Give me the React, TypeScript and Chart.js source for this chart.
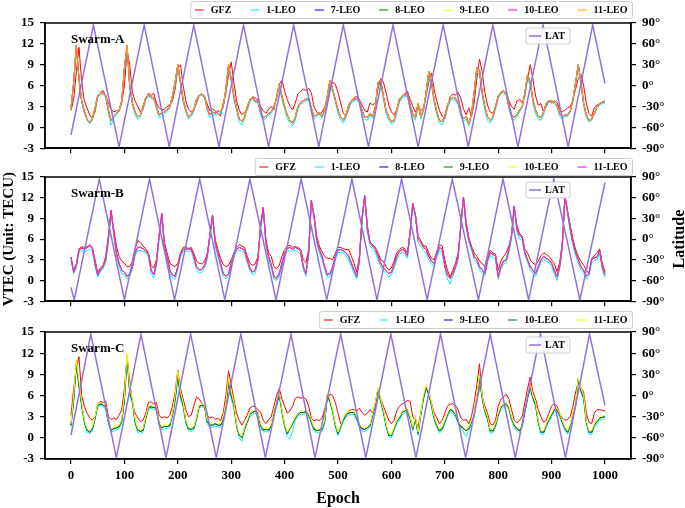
import React, { useEffect, useRef } from "react";
import { Chart, registerables } from "chart.js";
Chart.register(...registerables);

const FONT = '"Liberation Serif", "Times New Roman", serif';
Chart.defaults.font.family = FONT;

const EPOCH_STEP = 5;
const X_TICKS = [0, 100, 200, 300, 400, 500, 600, 700, 800, 900, 1000];

// ---------- Swarm-A (VTEC, TECU, every 5 epochs) ----------
const A_GFZ = [
  2.4, 4.0, 8.0, 11.5, 6.5, 3.8, 2.8, 1.8, 1.3, 2.2, 4.4, 5.0, 5.3, 4.5, 3.5, 2.6, 2.2, 2.4, 2.3, 3.5,
  6.0, 11.0, 9.0, 5.0, 3.8, 3.0, 2.2, 2.6, 4.0, 4.9, 4.6, 4.9, 3.5, 2.8, 2.5, 2.6, 3.0, 3.2, 3.8, 5.5,
  8.5, 9.0, 6.0, 3.8, 2.6, 2.2, 2.4, 3.5, 4.5, 4.8, 4.3, 3.4, 2.4, 2.6, 2.4, 2.0, 1.6, 3.5, 4.8, 7.5,
  9.4, 6.5, 3.8, 2.5, 1.8, 2.2, 2.5, 3.8, 4.4, 4.2, 4.0, 3.0, 2.4, 2.0, 2.6, 3.0, 2.5, 4.5, 6.2, 6.8,
  5.2, 4.0, 3.0, 2.5, 3.5, 4.8, 5.2, 5.5, 5.3, 5.6, 5.0, 3.0, 2.2, 1.8, 2.2, 2.8, 3.5, 5.8, 6.5, 6.2,
  5.0, 3.5, 2.0, 1.6, 2.6, 3.8, 4.2, 4.5, 4.0, 3.2, 2.4, 2.2, 3.5, 3.2, 3.5, 5.5, 7.0, 6.5, 5.0, 3.2,
  2.2, 1.8, 2.5, 3.8, 4.5, 4.8, 5.2, 4.0, 3.0, 2.2, 3.0, 2.4, 2.8, 4.5, 6.5, 7.8, 5.5, 3.8, 2.4, 1.6,
  1.2, 2.8, 4.4, 4.8, 4.6, 5.0, 4.2, 2.6, 1.8, 2.8, 1.5, 3.5, 7.0, 9.8, 8.0, 5.0, 3.2, 2.2, 2.0, 2.8,
  4.2, 5.0, 5.3, 4.8, 3.8, 3.0, 2.6, 3.8, 4.0, 3.5, 4.5, 7.0, 9.0, 7.0, 4.5, 3.2, 3.4, 2.2, 3.0, 3.8,
  3.5, 3.8, 3.6, 2.6, 2.2, 2.5, 2.8, 3.0, 4.0, 5.5, 7.0, 7.6, 6.0, 3.5, 2.0, 1.6, 2.8, 3.2, 3.4, 3.6,
  3.5,
];
const A_LEO1 = [
  2.6, 6.0, 11.0, 6.5, 3.5, 2.0, 1.0, 0.5, 1.0, 2.5, 4.3, 4.8, 4.8, 4.3, 2.0, 0.3, 1.3, 1.8, 2.3, 3.5,
  8.0, 11.0, 5.5, 3.2, 1.8, 1.2, 1.5, 2.8, 4.0, 4.4, 4.2, 4.0, 2.6, 1.4, 1.6, 1.9, 2.3, 2.8, 4.2, 6.0,
  8.5, 6.0, 3.6, 2.2, 1.2, 1.5, 2.3, 3.8, 4.5, 4.6, 4.2, 2.4, 1.4, 1.8, 1.8, 2.0, 2.0, 2.8, 5.0, 8.5,
  6.5, 4.0, 2.4, 0.8, 0.3, 1.2, 2.6, 3.7, 4.0, 3.6, 3.5, 1.8, 1.0, 1.3, 1.8, 2.0, 2.8, 4.0, 5.8, 4.0,
  2.6, 1.3, 0.6, 0.2, 1.0, 2.6, 3.4, 3.5, 3.8, 4.0, 2.4, 1.2, 1.5, 2.0, 1.4, 2.2, 4.0, 6.2, 5.0, 3.6,
  2.0, 1.0, 0.6, 1.4, 2.8, 3.5, 3.8, 4.0, 3.5, 2.0, 1.2, 1.0, 1.8, 1.2, 2.6, 6.0, 6.2, 4.0, 2.0, 1.0,
  0.5, 0.7, 2.0, 3.6, 4.2, 4.4, 4.5, 2.8, 1.5, 1.0, 3.0, 1.2, 2.2, 4.5, 7.4, 6.0, 3.5, 1.8, 0.6, 0.4,
  1.3, 2.8, 3.8, 4.0, 3.9, 3.2, 1.6, 0.8, 1.2, 0.2, 1.6, 4.5, 8.0, 7.5, 4.5, 2.5, 1.0, 0.6, 1.2, 2.6,
  4.2, 4.8, 5.0, 4.6, 2.6, 1.4, 1.0, 1.5, 2.2, 2.8, 4.6, 7.0, 6.0, 3.5, 2.0, 1.2, 1.0, 1.8, 3.2, 3.6,
  3.6, 3.4, 3.0, 1.6, 1.2, 1.5, 1.6, 2.2, 3.6, 6.0, 8.5, 6.0, 3.0, 1.4, 0.8, 1.0, 1.8, 2.8, 3.2, 3.4,
  3.6,
];
const A_LEO11 = [
  2.8, 6.5, 11.8, 7.0, 3.8, 2.3, 1.2, 0.7, 1.2, 2.8, 4.6, 5.0, 4.9, 4.6, 2.5, 1.0, 1.6, 2.0, 2.5, 3.8,
  8.5, 11.8, 6.0, 3.5, 2.2, 1.5, 1.8, 3.0, 4.3, 4.6, 4.4, 4.2, 3.0, 1.8, 2.0, 2.2, 2.6, 3.0, 4.5, 6.5,
  9.0, 6.5, 4.0, 2.5, 1.5, 1.8, 2.6, 4.0, 4.6, 4.8, 4.5, 2.8, 1.8, 2.2, 2.0, 2.4, 2.2, 3.0, 5.5, 9.0,
  7.0, 4.5, 2.8, 1.2, 0.8, 1.5, 3.0, 4.0, 4.2, 3.8, 3.8, 2.2, 1.4, 1.6, 2.0, 2.2, 3.0, 4.2, 6.2, 4.5,
  3.0, 1.8, 1.0, 0.6, 1.5, 3.0, 3.6, 3.8, 4.0, 4.2, 2.8, 1.6, 1.8, 2.2, 1.6, 2.5, 4.5, 6.8, 5.5, 4.0,
  2.5, 1.5, 1.0, 1.8, 3.2, 3.8, 4.0, 4.2, 3.8, 2.4, 1.6, 1.4, 2.0, 1.5, 3.0, 6.5, 6.8, 4.5, 2.5, 1.5,
  0.8, 1.0, 2.5, 4.0, 4.5, 4.6, 4.8, 3.2, 2.0, 1.4, 3.5, 1.5, 2.5, 5.0, 8.0, 6.5, 4.0, 2.2, 1.0, 0.8,
  1.6, 3.2, 4.0, 4.3, 4.2, 3.5, 2.0, 1.2, 1.6, 0.5, 2.0, 5.0, 8.6, 8.2, 5.0, 3.0, 1.5, 1.0, 1.5, 3.0,
  4.5, 5.0, 5.2, 4.8, 3.0, 1.8, 1.4, 1.8, 2.5, 3.0, 5.0, 7.6, 6.5, 4.0, 2.5, 1.6, 1.4, 2.2, 3.5, 3.8,
  3.8, 3.6, 3.2, 2.0, 1.5, 1.8, 1.8, 2.4, 4.0, 6.5, 9.0, 6.5, 3.5, 1.8, 1.0, 1.2, 2.0, 3.0, 3.4, 3.6,
  3.8,
];
const A_LAT_EPOCH = [0, 42, 90, 137, 184, 230, 277, 323, 370, 417, 464, 510, 557, 603, 650, 697, 744, 790, 837, 884, 931, 977, 1000];
const A_LAT_DEG = [-71, 87, -88, 87, -88, 87, -88, 87, -88, 87, -88, 87, -88, 87, -88, 87, -88, 87, -88, 87, -88, 87, 3];

// ---------- Swarm-B ----------
const B_GFZ = [
  2.8, 1.5, 2.4, 4.6, 4.9, 4.8, 4.9, 5.0, 4.8, 3.0, 1.2, 1.8, 2.2, 3.5, 6.5, 10.0, 7.5, 5.0, 3.5, 2.8,
  2.5, 2.0, 2.0, 2.8, 4.5, 5.8, 5.5, 5.0, 4.6, 4.0, 2.2, 1.8, 3.0, 6.5, 9.4, 5.5, 4.0, 2.5, 2.2, 2.0,
  2.5, 4.0, 4.8, 4.9, 4.6, 4.8, 4.0, 2.8, 2.5, 2.4, 2.8, 3.8, 6.5, 9.2, 6.0, 4.5, 3.2, 2.3, 2.0, 2.2,
  3.0, 4.0, 4.8, 5.2, 5.0, 4.8, 3.5, 2.5, 2.2, 2.4, 3.5, 7.5, 10.4, 6.0, 4.0, 3.5, 2.0, 1.7, 2.2, 3.5,
  4.5, 5.0, 5.1, 4.8, 4.9, 4.8, 4.5, 3.0, 2.6, 4.5, 11.2, 9.5, 6.5, 5.0, 4.2, 3.5, 3.2, 3.2, 3.0, 4.0,
  4.8, 4.8, 4.6, 4.5, 4.5, 3.5, 2.5, 1.2, 3.5, 9.0, 12.2, 8.0, 5.5, 5.2, 4.8, 4.0, 3.0, 2.8, 2.0, 1.5,
  1.8, 2.8, 4.0, 4.5, 4.8, 4.6, 4.0, 7.0, 11.0, 9.5, 6.5, 5.8, 5.0, 5.0, 4.0, 3.2, 3.0, 4.2, 5.2, 5.0,
  3.0, 1.5, 0.5, 1.5, 2.5, 4.0, 8.0, 11.8, 8.5, 6.2, 5.0, 4.0, 3.5, 2.8, 2.5, 2.0, 3.5, 4.4, 4.0, 3.8,
  1.5, 2.8, 3.5, 4.0, 5.0, 6.5, 10.5, 8.0, 6.8, 6.4, 4.5, 4.0, 3.0, 2.5, 2.3, 2.8, 3.6, 4.0, 3.8, 3.5,
  3.0, 2.5, 1.3, 2.5, 5.5, 12.0, 10.0, 8.0, 6.0, 4.5, 3.5, 2.8, 2.2, 1.5, 1.0, 3.2, 3.6, 4.0, 4.6, 2.5,
  1.2,
];
const B_LEO1 = [
  3.0, 1.0, 1.8, 4.0, 4.3, 4.2, 4.3, 4.6, 4.2, 2.0, 0.5, 1.2, 1.7, 2.6, 5.5, 9.8, 6.5, 3.6, 2.0, 1.0,
  0.8, 0.2, 0.6, 1.6, 3.6, 4.3, 4.4, 4.2, 4.0, 3.4, 1.0, 0.4, 2.0, 6.0, 9.4, 4.6, 3.0, 1.0, 0.4, 0.2,
  1.6, 3.4, 4.2, 4.3, 4.2, 4.3, 3.0, 1.6, 1.0, 1.2, 1.8, 3.0, 6.0, 9.2, 5.0, 3.5, 2.0, 0.6, 0.2, 0.6,
  2.0, 3.4, 4.2, 4.4, 4.3, 4.0, 2.6, 1.4, 0.8, 1.0, 2.6, 7.5, 10.2, 5.0, 3.0, 1.8, 0.2, 0.0, 0.6, 2.0,
  3.6, 4.2, 4.4, 4.2, 4.4, 4.2, 3.8, 1.6, 0.6, 3.5, 11.0, 9.0, 5.5, 4.0, 3.0, 1.6, 0.4, 0.6, 1.6, 3.0,
  4.0, 4.1, 4.0, 3.6, 3.0, 2.0, 1.0, 0.2, 2.6, 8.5, 12.0, 7.0, 5.0, 4.6, 4.0, 3.0, 2.0, 1.4, 1.0, 0.5,
  0.8, 1.8, 3.0, 3.8, 4.1, 4.0, 3.2, 6.5, 10.8, 9.0, 5.5, 5.0, 4.4, 4.0, 3.0, 2.4, 2.0, 3.4, 4.4, 4.0,
  1.8, 0.2, -0.5, 0.6, 1.6, 3.0, 7.5, 11.8, 7.5, 5.5, 4.4, 3.0, 2.6, 1.6, 1.0, 0.6, 2.6, 3.6, 3.4, 3.0,
  0.2, 1.6, 2.4, 2.6, 4.0, 6.0, 10.5, 7.0, 6.0, 5.8, 3.6, 2.6, 1.6, 1.0, 0.6, 1.6, 2.6, 3.1, 2.8, 2.6,
  2.0, 1.0, 0.0, 1.6, 4.5, 12.0, 9.5, 7.0, 5.0, 3.6, 2.6, 1.6, 1.0, 0.2, 0.6, 2.6, 2.9, 3.0, 3.8, 1.5,
  0.4,
];
const B_LEO11 = [
  3.4, 1.2, 2.2, 4.4, 4.7, 4.6, 4.7, 5.2, 4.6, 2.5, 0.8, 1.5, 2.0, 3.0, 6.0, 10.2, 7.0, 4.0, 2.5, 1.5,
  1.2, 0.6, 1.0, 2.0, 4.0, 4.8, 4.8, 4.6, 4.3, 3.8, 1.5, 0.8, 2.5, 6.5, 9.7, 5.0, 3.5, 1.5, 0.8, 0.6,
  2.0, 3.8, 4.5, 4.6, 4.5, 4.6, 3.5, 2.0, 1.5, 1.6, 2.2, 3.5, 6.5, 9.5, 5.5, 4.0, 2.5, 1.0, 0.6, 1.0,
  2.5, 3.8, 4.5, 4.8, 4.6, 4.4, 3.0, 1.8, 1.2, 1.5, 3.0, 8.0, 10.6, 5.5, 3.5, 2.2, 0.6, 0.3, 1.0, 2.5,
  4.0, 4.6, 4.8, 4.5, 4.8, 4.6, 4.2, 2.0, 1.0, 4.0, 11.6, 9.5, 6.0, 4.5, 3.5, 2.0, 0.8, 1.0, 2.0, 3.5,
  4.4, 4.5, 4.3, 4.0, 3.5, 2.5, 1.5, 0.6, 3.0, 9.0, 12.3, 7.5, 5.5, 5.0, 4.5, 3.5, 2.5, 1.8, 1.4, 1.0,
  1.2, 2.2, 3.5, 4.2, 4.5, 4.3, 3.6, 7.0, 11.2, 9.5, 6.0, 5.5, 4.8, 4.5, 3.5, 2.8, 2.5, 3.8, 4.8, 4.5,
  2.2, 0.8, 0.3, 1.0, 2.0, 3.5, 8.0, 12.1, 8.0, 6.0, 4.8, 3.5, 3.0, 2.0, 1.5, 1.0, 3.0, 4.0, 3.8, 3.5,
  0.5, 2.0, 2.8, 3.0, 4.5, 6.5, 10.8, 7.5, 6.5, 6.2, 4.0, 3.0, 2.0, 1.5, 1.0, 2.0, 3.0, 3.5, 3.2, 3.0,
  2.5, 1.5, 0.5, 2.0, 5.0, 12.3, 10.0, 7.5, 5.5, 4.0, 3.0, 2.0, 1.5, 0.6, 1.0, 3.0, 3.3, 3.4, 4.3, 2.0,
  0.8,
];
const B_LAT_EPOCH = [0, 6, 53, 100, 147, 194, 241, 288, 335, 384, 431, 479, 526, 573, 619, 667, 714, 763, 809, 857, 904, 953, 1000];
const B_LAT_DEG = [-70, -88, 87, -88, 87, -88, 87, -88, 87, -88, 87, -88, 87, -88, 87, -88, 87, -88, 87, -88, 87, -88, 82];

// ---------- Swarm-C ----------
const C_GFZ = [
  3.2, 7.0, 10.0, 11.5, 6.0, 4.5, 3.5, 2.8, 2.5, 3.0, 4.8, 5.2, 5.0, 5.2, 3.0, 2.6, 2.8, 2.6, 3.2, 4.0,
  7.0, 11.5, 8.0, 5.0, 3.5, 2.8, 2.3, 2.5, 3.5, 5.0, 5.1, 4.8, 5.0, 3.2, 2.8, 3.0, 2.8, 3.2, 4.5, 6.5,
  9.6, 7.0, 5.5, 4.0, 3.0, 3.2, 4.5, 5.8, 5.5, 4.9, 4.6, 3.2, 2.8, 3.0, 2.6, 2.8, 2.4, 3.5, 6.0, 9.5,
  7.5, 5.5, 3.5, 2.5, 1.8, 2.5, 3.2, 4.2, 4.5, 4.4, 4.0, 3.6, 2.5, 2.0, 2.6, 3.0, 4.5, 6.0, 7.0, 5.5,
  4.5, 3.5, 3.8, 4.5, 5.6, 5.8, 5.6, 5.7, 5.5, 4.5, 2.8, 2.4, 2.6, 2.4, 2.8, 4.0, 5.5, 6.2, 6.0, 5.0,
  3.5, 2.0, 2.5, 3.2, 3.8, 4.0, 4.0, 3.8, 4.2, 3.6, 3.2, 3.5, 4.0, 3.5, 5.0, 7.0, 5.5, 4.5, 3.5, 2.5,
  2.0, 2.5, 3.8, 4.5, 4.8, 5.0, 5.3, 5.2, 3.0, 2.5, 1.5, 3.5, 5.5, 7.0, 6.5, 5.0, 3.5, 2.8, 2.0, 2.5,
  3.5, 4.5, 4.8, 4.8, 4.6, 4.0, 2.8, 2.5, 2.6, 2.0, 3.0, 5.0, 7.5, 10.5, 6.0, 4.5, 3.5, 2.0, 1.8, 2.5,
  4.5, 5.5, 5.8, 6.2, 5.5, 4.0, 2.5, 2.1, 2.5, 3.0, 5.0, 7.0, 8.6, 6.5, 5.5, 4.0, 3.0, 2.2, 2.5, 3.5,
  4.5, 4.9, 4.5, 3.5, 2.8, 2.5, 2.6, 3.0, 4.5, 6.5, 8.0, 7.0, 6.5, 3.5, 2.2, 2.0, 3.5, 4.0, 4.0, 3.9,
  3.8,
];
const C_LEO1 = [
  1.5, 5.0, 10.0, 7.0, 4.3, 2.0, 0.8, 0.6, 1.0, 2.5, 4.4, 4.6, 4.5, 4.0, 2.0, 0.8, 1.0, 1.1, 1.3, 2.1,
  5.0, 11.5, 6.0, 4.8, 2.0, 0.8, 0.6, 0.8, 2.5, 4.0, 4.2, 4.0, 4.0, 1.7, 1.1, 1.3, 1.3, 1.5, 3.0, 5.0,
  8.5, 5.5, 4.3, 2.0, 1.0, 0.9, 1.1, 2.5, 4.3, 4.4, 4.3, 2.0, 1.5, 1.5, 1.7, 1.5, 1.5, 2.5, 4.2, 7.5,
  5.5, 4.3, 1.5, 0.0, -0.5, 1.0, 2.0, 3.0, 3.3, 3.5, 3.3, 1.5, 0.8, 0.9, 0.8, 1.5, 3.3, 4.3, 6.0, 3.5,
  1.5, 0.2, -0.2, 1.0, 2.5, 3.0, 3.3, 3.3, 3.4, 3.0, 2.0, 1.0, 0.7, 0.8, 0.9, 2.0, 5.7, 5.0, 3.5, 1.5,
  0.3, 1.3, 2.3, 3.0, 3.2, 3.3, 3.3, 2.5, 1.5, 1.0, 0.9, 1.1, 1.5, 3.0, 4.4, 6.8, 5.0, 3.5, 1.5, 0.2,
  0.0, 1.0, 2.0, 2.5, 3.3, 3.5, 3.7, 2.5, 1.0, 2.5, 0.3, 3.0, 5.4, 7.0, 6.0, 4.4, 2.5, 1.5, 0.7, 1.0,
  2.0, 3.0, 3.7, 3.5, 3.0, 2.0, 1.3, 0.8, 0.2, 1.0, 2.0, 3.0, 5.4, 8.2, 5.4, 3.5, 2.5, 0.7, 0.7, 1.5,
  3.0, 4.0, 4.3, 4.5, 4.0, 2.5, 1.5, 1.0, 0.7, 1.5, 3.5, 5.4, 7.0, 5.4, 4.4, 2.0, 0.5, 0.5, 1.5, 2.3,
  3.0, 3.7, 3.7, 3.0, 2.0, 1.0, 0.5, 1.5, 3.0, 4.4, 8.0, 6.4, 5.4, 2.0, 0.5, 0.5, 1.5, 2.0, 2.5, 2.6,
  2.7,
];
const C_LEO10 = [
  1.8, 5.5, 10.5, 7.5, 4.7, 2.3, 1.1, 0.8, 1.3, 2.8, 4.6, 4.8, 4.7, 4.3, 2.3, 1.1, 1.3, 1.4, 1.6, 2.4,
  5.5, 11.5, 6.5, 5.2, 2.3, 1.1, 0.9, 1.1, 2.8, 4.3, 4.4, 4.3, 4.2, 2.0, 1.4, 1.6, 1.6, 1.8, 3.3, 5.5,
  9.0, 6.0, 4.7, 2.3, 1.3, 1.2, 1.4, 2.8, 4.5, 4.6, 4.5, 2.3, 1.8, 1.8, 2.0, 1.8, 1.8, 2.8, 4.6, 8.0,
  6.0, 4.7, 1.8, 0.4, 0.0, 1.3, 2.3, 3.3, 3.6, 3.8, 3.6, 1.8, 1.1, 1.2, 1.1, 1.8, 3.7, 4.7, 6.2, 3.8,
  1.8, 0.6, 1.3, 2.0, 2.8, 3.3, 3.6, 3.6, 3.7, 3.3, 2.3, 1.3, 1.0, 1.1, 1.2, 2.3, 6.0, 5.2, 3.8, 1.8,
  0.6, 1.6, 2.6, 3.3, 3.5, 3.6, 3.6, 2.8, 1.8, 1.3, 1.2, 1.4, 1.8, 3.3, 4.7, 7.0, 5.2, 3.8, 1.8, 0.4,
  0.3, 1.3, 2.3, 2.8, 3.6, 3.8, 4.0, 2.8, 1.3, 2.8, 0.6, 3.3, 5.7, 7.2, 6.2, 4.7, 2.8, 1.8, 1.0, 1.3,
  2.3, 3.3, 4.0, 3.8, 3.3, 2.3, 1.6, 1.3, 1.0, 1.3, 2.3, 3.3, 5.7, 8.6, 5.7, 3.8, 2.8, 1.0, 1.0, 1.8,
  3.3, 4.3, 4.6, 4.8, 4.3, 2.8, 1.8, 1.3, 1.0, 1.8, 3.8, 5.7, 7.2, 5.7, 4.7, 2.3, 0.8, 0.8, 1.8, 2.6,
  3.3, 4.0, 4.0, 3.3, 2.3, 1.3, 0.8, 1.8, 3.3, 4.7, 8.3, 6.7, 5.7, 2.3, 0.8, 0.8, 1.8, 2.3, 2.8, 2.9,
  3.0,
];
const C_LEO11 = [
  2.0, 6.0, 11.0, 8.0, 5.0, 2.5, 1.3, 1.0, 1.5, 3.0, 4.8, 5.0, 4.9, 4.5, 2.5, 1.3, 1.5, 1.6, 1.8, 2.6,
  6.0, 12.0, 7.0, 5.5, 2.5, 1.3, 1.1, 1.3, 3.0, 4.5, 4.6, 4.5, 4.4, 2.2, 1.6, 1.8, 1.8, 2.0, 3.5, 6.0,
  9.5, 6.5, 5.0, 2.5, 1.5, 1.4, 1.6, 3.0, 4.7, 4.8, 4.7, 2.5, 2.0, 2.0, 2.2, 2.0, 2.0, 3.0, 5.0, 8.5,
  6.5, 5.0, 2.0, 0.6, 0.2, 1.5, 2.5, 3.5, 3.8, 4.0, 3.8, 2.0, 1.3, 1.4, 1.3, 2.0, 4.0, 5.0, 6.5, 4.0,
  2.0, 0.8, 1.5, 2.2, 3.0, 3.5, 3.8, 3.8, 3.9, 3.5, 2.5, 1.5, 1.2, 1.3, 1.4, 2.5, 6.3, 5.5, 4.0, 2.0,
  0.8, 1.8, 2.8, 3.5, 3.7, 3.8, 3.8, 3.0, 2.0, 1.5, 1.4, 1.6, 2.0, 3.5, 5.0, 7.2, 5.5, 4.0, 2.0, 0.6,
  0.5, 1.5, 2.5, 3.0, 3.8, 4.0, 4.2, 3.0, 1.5, 3.0, 0.8, 3.5, 6.0, 7.5, 6.5, 5.0, 3.0, 2.0, 1.2, 1.5,
  2.5, 3.5, 4.2, 4.0, 3.5, 2.5, 1.8, 1.5, 1.2, 1.5, 2.5, 3.5, 6.0, 9.0, 6.0, 4.0, 3.0, 1.2, 1.2, 2.0,
  3.5, 4.5, 4.8, 5.0, 4.5, 3.0, 2.0, 1.5, 1.2, 2.0, 4.0, 6.0, 7.5, 6.0, 5.0, 2.5, 1.0, 1.0, 2.0, 2.8,
  3.5, 4.2, 4.2, 3.5, 2.5, 1.5, 1.0, 2.0, 3.5, 5.0, 8.6, 7.0, 6.0, 2.5, 1.0, 1.0, 2.0, 2.5, 3.0, 3.1,
  3.2,
];
const C_LAT_EPOCH = [0, 37, 85, 131, 178, 224, 272, 318, 364, 412, 457, 505, 552, 599, 646, 692, 739, 785, 832, 879, 926, 971, 1000];
const C_LAT_DEG = [-56, 87, -88, 87, -88, 87, -88, 87, -88, 87, -88, 87, -88, 87, -88, 87, -88, 87, -88, 87, -88, 87, -14];

// ---------- colours ----------
const RED = "#ff0000";
const CYAN = "#00f0ff";
const BLUE = "#0000ff";
const GREEN = "#008000";
const YELLOW = "#ffff00";
const MAGENTA = "#ff00ff";
const ORANGE = "#ffa500";
const PURPLE = "#9370db";

type Series = { label: string; color: string; data: number[] };
type PanelDef = {
  name: string;
  top: number;
  height: number;
  padTop: number;
  axisH: number;
  legendTop: number;
  showX: boolean;
  series: Series[]; // legend order; later entries are drawn on top
  latEpoch: number[];
  latDeg: number[];
  vtecTitle?: boolean;
  latTitle?: boolean;
  epochTitle?: boolean;
};

const PANELS: PanelDef[] = [
  {
    name: "Swarm-A", top: 0, height: 162, padTop: 23, axisH: 10, legendTop: 1.5, showX: false,
    series: [
      { label: "GFZ", color: RED, data: A_GFZ },
      { label: "1-LEO", color: CYAN, data: A_LEO1 },
      { label: "7-LEO", color: BLUE, data: A_LEO11 },
      { label: "8-LEO", color: GREEN, data: A_LEO11 },
      { label: "9-LEO", color: YELLOW, data: A_LEO11 },
      { label: "10-LEO", color: MAGENTA, data: A_LEO11 },
      { label: "11-LEO", color: ORANGE, data: A_LEO11 },
    ],
    latEpoch: A_LAT_EPOCH, latDeg: A_LAT_DEG,
  },
  {
    name: "Swarm-B", top: 150, height: 165, padTop: 27, axisH: 10, legendTop: 8.5, showX: false,
    series: [
      { label: "GFZ", color: RED, data: B_GFZ },
      { label: "1-LEO", color: CYAN, data: B_LEO1 },
      { label: "8-LEO", color: BLUE, data: B_LEO11 },
      { label: "9-LEO", color: GREEN, data: B_LEO11 },
      { label: "10-LEO", color: YELLOW, data: B_LEO11 },
      { label: "11-LEO", color: MAGENTA, data: B_LEO11 },
    ],
    latEpoch: B_LAT_EPOCH, latDeg: B_LAT_DEG, vtecTitle: true, latTitle: true,
  },
  {
    name: "Swarm-C", top: 306, height: 202, padTop: 26, axisH: 49, legendTop: 5.5, showX: true,
    series: [
      { label: "GFZ", color: RED, data: C_GFZ },
      { label: "1-LEO", color: CYAN, data: C_LEO1 },
      { label: "9-LEO", color: BLUE, data: C_LEO10 },
      { label: "10-LEO", color: GREEN, data: C_LEO10 },
      { label: "11-LEO", color: YELLOW, data: C_LEO11 },
    ],
    latEpoch: C_LAT_EPOCH, latDeg: C_LAT_DEG, epochTitle: true,
  },
];

function roundRect(ctx: CanvasRenderingContext2D, x: number, y: number, w: number, h: number, r: number) {
  ctx.beginPath();
  ctx.moveTo(x + r, y);
  ctx.lineTo(x + w - r, y);
  ctx.quadraticCurveTo(x + w, y, x + w, y + r);
  ctx.lineTo(x + w, y + h - r);
  ctx.quadraticCurveTo(x + w, y + h, x + w - r, y + h);
  ctx.lineTo(x + r, y + h);
  ctx.quadraticCurveTo(x, y + h, x, y + h - r);
  ctx.lineTo(x, y + r);
  ctx.quadraticCurveTo(x, y, x + r, y);
  ctx.closePath();
}

function decorPlugin(p: PanelDef) {
  return {
    id: "decor",
    afterDatasetsDraw(chart: any) {
      const ctx: CanvasRenderingContext2D = chart.ctx;
      const a = chart.chartArea;
      ctx.save();
      // frame
      ctx.strokeStyle = "#000";
      ctx.lineWidth = 1.5;
      ctx.strokeRect(a.left, a.top, a.right - a.left, a.bottom - a.top);

      // panel name
      ctx.fillStyle = "#000";
      ctx.font = `bold 13px ${FONT}`;
      ctx.textAlign = "left";
      ctx.textBaseline = "middle";
      ctx.fillText(p.name, chart.scales.x.getPixelForValue(0), a.top + 17);

      // LAT legend inside the plot
      const lw = 44, lh = 16;
      const lx = a.right - 61 - lw, ly = a.top + 5;
      roundRect(ctx, lx, ly, lw, lh, 2);
      ctx.fillStyle = "rgba(255,255,255,0.85)";
      ctx.fill();
      ctx.strokeStyle = "#cccccc";
      ctx.lineWidth = 1;
      ctx.stroke();
      ctx.strokeStyle = PURPLE;
      ctx.lineWidth = 1.5;
      ctx.beginPath();
      ctx.moveTo(lx + 3, ly + lh / 2);
      ctx.lineTo(lx + 15, ly + lh / 2);
      ctx.stroke();
      ctx.fillStyle = "#000";
      ctx.font = `bold 10px ${FONT}`;
      ctx.fillText("LAT", lx + 19, ly + lh / 2 + 0.5);

      // series legend above the plot
      const items = p.series;
      ctx.font = `bold 10px ${FONT}`;
      const padL = 4, padR = 5, lineLen = 9, gap = 7, itemGap = 19, h = 17;
      const widths = items.map((it) => ctx.measureText(it.label).width);
      const total = padL + padR + widths.reduce((s, w) => s + w, 0) + items.length * (lineLen + gap) + (items.length - 1) * itemGap;
      const right = a.right + 1.5;
      const left = right - total;
      const top = p.legendTop;
      roundRect(ctx, left, top, total, h, 2);
      ctx.fillStyle = "#ffffff";
      ctx.fill();
      ctx.strokeStyle = "#cccccc";
      ctx.lineWidth = 1;
      ctx.stroke();
      let x = left + padL;
      items.forEach((it, k) => {
        ctx.globalAlpha = 0.7;
        ctx.strokeStyle = it.color;
        ctx.lineWidth = 1.5;
        ctx.beginPath();
        ctx.moveTo(x, top + h / 2);
        ctx.lineTo(x + lineLen, top + h / 2);
        ctx.stroke();
        ctx.globalAlpha = 1;
        ctx.fillStyle = "#000";
        ctx.fillText(it.label, x + lineLen + gap, top + h / 2 + 0.5);
        x += lineLen + gap + widths[k] + itemGap;
      });

      // axis titles
      ctx.fillStyle = "#000";
      if (p.vtecTitle) {
        ctx.save();
        ctx.font = `bold 15px ${FONT}`;
        ctx.translate(13, (a.top + a.bottom) / 2);
        ctx.rotate(-Math.PI / 2);
        ctx.textAlign = "center";
        ctx.textBaseline = "alphabetic";
        ctx.fillText("VTEC (Unit: TECU)", 0, 0);
        ctx.restore();
      }
      if (p.latTitle) {
        ctx.save();
        ctx.font = `bold 16px ${FONT}`;
        ctx.translate(684, (a.top + a.bottom) / 2);
        ctx.rotate(-Math.PI / 2);
        ctx.textAlign = "center";
        ctx.textBaseline = "alphabetic";
        ctx.fillText("Latitude", 0, 0);
        ctx.restore();
      }
      if (p.epochTitle) {
        ctx.font = `bold 16px ${FONT}`;
        ctx.textAlign = "center";
        ctx.textBaseline = "alphabetic";
        ctx.fillText("Epoch", (a.left + a.right) / 2, a.bottom + 44);
      }
      ctx.restore();
    },
  };
}

function buildConfig(p: PanelDef): any {
  const tickFont = { family: FONT, size: 13, weight: "bold" as const };
  const grid = { drawOnChartArea: false, drawTicks: true, tickLength: 5, color: "#000", lineWidth: 1.2 };
  const border = { display: true, color: "#000", width: 1.5 };
  const vtecSets = p.series
    .map((s) => ({
      label: s.label,
      data: s.data.map((v, i) => ({ x: i * EPOCH_STEP, y: v })),
      borderColor: s.color,
      backgroundColor: s.color,
      borderWidth: 1,
      yAxisID: "y",
    }))
    .reverse();
  const latSet = {
    label: "LAT",
    data: p.latEpoch.map((e, i) => ({ x: e, y: p.latDeg[i] })),
    borderColor: PURPLE,
    backgroundColor: PURPLE,
    borderWidth: 1.5,
    yAxisID: "y2",
  };
  return {
    type: "line",
    data: { datasets: [latSet, ...vtecSets] },
    options: {
      animation: false,
      responsive: false,
      maintainAspectRatio: false,
      devicePixelRatio: 1,
      layout: { padding: { top: p.padTop, left: 0, right: 0, bottom: 0 } },
      elements: { point: { radius: 0, hoverRadius: 0 }, line: { tension: 0, fill: false } },
      plugins: { legend: { display: false }, tooltip: { enabled: false }, title: { display: false } },
      events: [],
      scales: {
        x: {
          type: "linear",
          min: -48.7,
          max: 1048.7,
          afterBuildTicks: (s: any) => { s.ticks = X_TICKS.map((v) => ({ value: v })); },
          afterFit: (s: any) => { s.height = p.axisH; },
          grid,
          border,
          ticks: {
            display: p.showX, padding: 4, color: "#000", font: tickFont, maxRotation: 0, autoSkip: false,
            callback: (v: any) => String(v),
          },
        },
        y: {
          position: "left",
          min: -3,
          max: 15,
          afterFit: (s: any) => { s.width = 45; },
          grid,
          border,
          ticks: { stepSize: 3, padding: 6, color: "#000", font: tickFont, callback: (v: any) => String(v) },
        },
        y2: {
          position: "right",
          min: -90,
          max: 90,
          afterFit: (s: any) => { s.width = 54; },
          grid,
          border,
          ticks: { stepSize: 30, padding: 6, color: "#000", font: tickFont, callback: (v: any) => `${v}°` },
        },
      },
    },
    plugins: [decorPlugin(p)],
  };
}

function Panel({ def }: { def: PanelDef }) {
  const ref = useRef<HTMLCanvasElement | null>(null);
  useEffect(() => {
    if (!ref.current) return;
    const chart = new Chart(ref.current, buildConfig(def));
    return () => chart.destroy();
  }, [def]);
  return (
    <canvas
      ref={ref}
      width={685}
      height={def.height}
      style={{ position: "absolute", left: 0, top: def.top, width: 685, height: def.height }}
    />
  );
}

export default function App() {
  return (
    <div style={{ position: "absolute", left: 0, top: 0, width: 685, height: 508, background: "#ffffff", overflow: "hidden" }}>
      {PANELS.map((p) => (
        <Panel key={p.name} def={p} />
      ))}
    </div>
  );
}
